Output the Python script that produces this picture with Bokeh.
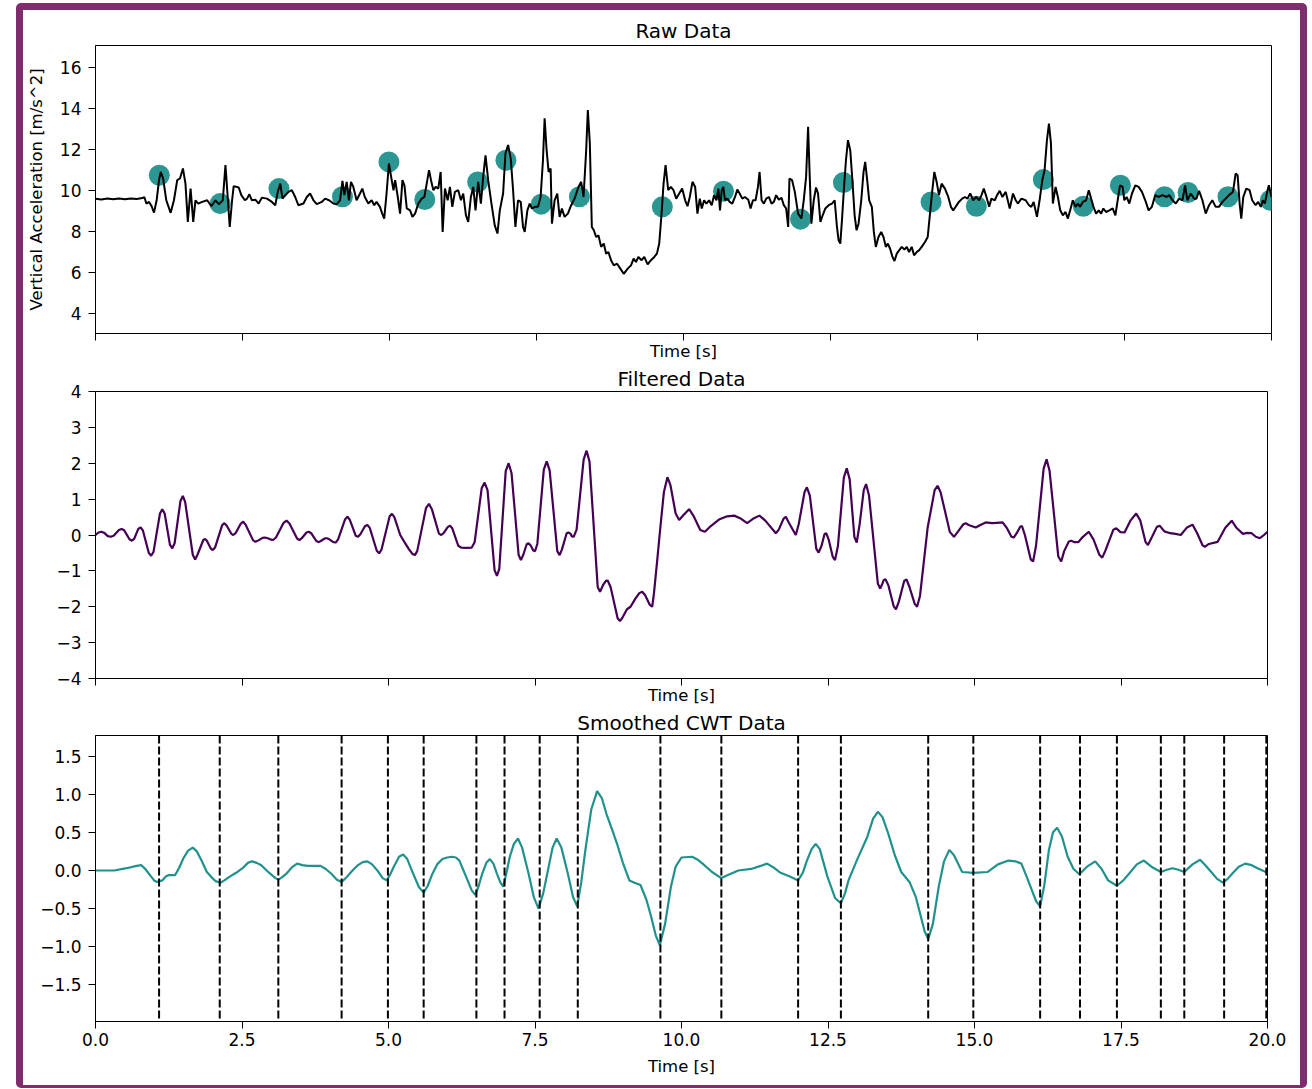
from bokeh.plotting import figure
from bokeh.layouts import column
from bokeh.models import Span, FixedTicker, Range1d, CustomJSTickFormatter
from bokeh.embed import file_html
from bokeh.resources import INLINE

# ---------------- data ----------------
raw_time = [
    0.0, 0.1, 0.2, 0.3, 0.4, 0.5, 0.6, 0.7, 0.8, 0.83,
    0.865, 0.91, 0.955, 0.995, 1.04, 1.08, 1.11, 1.15, 1.204, 1.278,
    1.334, 1.39, 1.436, 1.487, 1.53, 1.57, 1.617, 1.662, 1.70, 1.747,
    1.814, 1.90, 1.97, 2.04, 2.097, 2.165, 2.21, 2.244, 2.283, 2.323,
    2.35, 2.436, 2.48, 2.54, 2.577, 2.617, 2.66, 2.718, 2.775, 2.83,
    2.916, 3.0, 3.057, 3.1, 3.142, 3.18, 3.227, 3.283, 3.34, 3.396,
    3.45, 3.537, 3.594, 3.65, 3.707, 3.763, 3.848, 3.905, 3.972, 4.046,
    4.102, 4.159, 4.2, 4.232, 4.272, 4.31, 4.345, 4.385, 4.44, 4.498,
    4.538, 4.58, 4.64, 4.696, 4.74, 4.78, 4.837, 4.876, 4.91, 4.95,
    4.99,
    5.028, 5.068, 5.096, 5.141, 5.18, 5.22, 5.254, 5.294, 5.35, 5.39,
    5.435, 5.49, 5.548, 5.593, 5.633, 5.672, 5.706, 5.746, 5.785, 5.83,
    5.87, 5.904, 5.943, 5.989, 6.028, 6.068, 6.113, 6.169, 6.215, 6.254,
    6.3, 6.339, 6.384, 6.424, 6.463, 6.508, 6.554, 6.593, 6.633, 6.678,
    6.734, 6.79, 6.836, 6.876, 6.932, 6.972, 7.017, 7.062, 7.102, 7.141,
    7.186, 7.232, 7.271, 7.3, 7.345, 7.384, 7.424, 7.469, 7.525, 7.57,
    7.61, 7.638, 7.672, 7.706, 7.74, 7.763, 7.808, 7.853, 7.893, 7.932,
    7.977, 8.034, 8.09, 8.147, 8.215, 8.26, 8.3, 8.345, 8.373, 8.407,
    8.441, 8.475, 8.514, 8.554, 8.599, 8.644, 8.684, 8.723, 8.768, 8.814,
    8.87, 8.926, 8.983, 9.051, 9.107, 9.152, 9.192, 9.232, 9.288, 9.333,
    9.39, 9.446, 9.503, 9.548, 9.587, 9.627, 9.661, 9.695, 9.74, 9.785,
    9.83, 9.876, 9.927, 9.977,
    10.028, 10.068, 10.107, 10.153, 10.198, 10.237, 10.277, 10.311, 10.35, 10.39,
    10.435, 10.48, 10.52, 10.559, 10.593, 10.621, 10.65, 10.678, 10.706, 10.746,
    10.785, 10.83, 10.876, 10.915, 10.955, 11.0, 11.045, 11.102, 11.141, 11.181,
    11.226, 11.266, 11.294, 11.328, 11.367, 11.407, 11.452, 11.497, 11.537, 11.576,
    11.621, 11.667, 11.706, 11.746, 11.78, 11.802, 11.847, 11.893, 11.949, 12.005,
    12.045, 12.085, 12.119, 12.147, 12.175, 12.215, 12.254, 12.288, 12.328, 12.367,
    12.412, 12.469, 12.525, 12.571, 12.61, 12.638, 12.667, 12.695, 12.734, 12.763,
    12.797, 12.836, 12.876, 12.91, 12.943, 12.977, 13.023, 13.062, 13.09, 13.124,
    13.158, 13.203, 13.237, 13.271, 13.316, 13.362, 13.401, 13.441, 13.475, 13.514,
    13.554, 13.588, 13.627, 13.667, 13.712, 13.757, 13.797, 13.836, 13.881, 13.921,
    13.966, 14.005, 14.051, 14.107, 14.153, 14.192, 14.232, 14.266, 14.305, 14.345,
    14.39, 14.446, 14.503, 14.548, 14.587, 14.627, 14.683, 14.74, 14.785, 14.83,
    14.876, 14.927, 14.977,
    15.028, 15.068, 15.107, 15.153, 15.198, 15.237, 15.294, 15.333, 15.378, 15.424,
    15.48, 15.548, 15.604, 15.65, 15.689, 15.746, 15.819, 15.876, 15.915, 15.955,
    16.011, 16.056, 16.102, 16.141, 16.181, 16.215, 16.249, 16.282, 16.328, 16.367,
    16.407, 16.452, 16.497, 16.537, 16.576, 16.621, 16.667, 16.706, 16.746, 16.791,
    16.847, 16.893, 16.932, 16.972, 17.017, 17.062, 17.102, 17.141, 17.186, 17.243,
    17.299, 17.345, 17.384, 17.424, 17.469, 17.497, 17.537, 17.582, 17.627, 17.684,
    17.74, 17.797, 17.853, 17.91, 17.966, 18.023, 18.079, 18.147, 18.215, 18.26,
    18.316, 18.373, 18.429, 18.486, 18.531, 18.57, 18.627, 18.684, 18.723, 18.768,
    18.825, 18.881, 18.938, 18.994, 19.051, 19.107, 19.164, 19.22, 19.277, 19.345,
    19.39, 19.424, 19.458, 19.486, 19.52, 19.571, 19.627, 19.672, 19.729, 19.774,
    19.819, 19.853, 19.887, 19.927, 19.955, 20.0,
]
raw_acc = [
    9.58, 9.55, 9.6, 9.56, 9.6, 9.56, 9.6, 9.57, 9.62, 9.67,
    9.35, 9.43, 9.22, 8.91, 9.51, 10.49, 10.89, 10.57, 9.51, 8.9,
    9.51, 10.49, 10.57, 11.06, 10.32, 8.46, 10.08, 8.46, 9.51, 9.35,
    9.43, 9.51, 9.22, 9.51, 9.32, 9.51, 11.22, 9.84, 8.21, 9.51,
    10.2, 10.13, 9.76, 9.51, 9.59, 9.8, 9.51, 9.54, 9.35, 9.64,
    9.59, 9.43, 9.27, 9.92, 10.32, 9.59, 9.76, 9.92, 10.0, 9.67,
    9.27, 9.35, 9.67, 9.84, 9.51, 9.32, 9.43, 9.59, 9.51, 9.35,
    9.32, 9.51, 10.45, 9.76, 10.41, 9.51, 10.41, 10.16, 9.51, 9.84,
    10.08, 9.67, 9.35, 9.51, 9.27, 9.43, 9.19, 8.86, 8.62, 9.84,
    11.3,
    10.65, 10.0, 10.49, 9.67, 8.86, 10.49, 10.24, 9.11, 9.02, 8.7,
    8.86, 9.35, 9.59, 9.67, 10.32, 10.98, 10.49, 10.0, 10.16, 10.08,
    10.89, 7.97, 10.08, 9.51, 10.16, 9.19, 9.92, 10.0, 9.51, 9.84,
    8.78, 8.46, 9.67, 10.16, 9.02, 10.41, 9.35, 10.65, 11.7, 10.49,
    9.35, 8.29, 7.89, 9.02, 9.84, 11.79, 12.2, 11.54, 10.0, 8.21,
    9.51, 9.43, 8.21, 7.97, 9.02, 9.35, 9.11, 9.19, 9.19, 9.67,
    11.46, 13.5, 11.95, 10.89, 11.06, 8.37, 9.51, 9.84, 8.7, 9.11,
    8.7, 8.86, 9.27, 9.59, 10.16, 10.41, 9.67, 11.95, 13.9, 12.28,
    8.21, 8.05, 7.72, 7.8, 7.24, 7.4, 6.91, 6.99, 6.59, 6.34,
    6.42, 6.18, 5.93, 6.18, 6.34, 6.67, 6.5, 6.75, 6.59, 6.75,
    6.39, 6.59, 6.75, 6.91, 7.4, 8.86, 10.32, 11.22, 10.0, 10.16,
    10.0, 9.59, 9.84, 10.08,
    9.51, 9.22, 9.67, 10.41, 10.16, 8.86, 9.59, 9.11, 9.51, 9.35,
    9.51, 9.27, 9.76, 9.51, 10.08, 9.02, 10.0, 10.16, 9.51, 9.59,
    9.43, 9.35, 9.67, 10.03, 9.84, 9.59, 9.67, 9.54, 9.11, 9.51,
    9.51, 10.16, 10.89, 9.51, 9.35, 9.59, 9.67, 9.35, 9.43, 9.76,
    9.54, 9.63, 9.27, 9.11, 8.21, 10.57, 10.49, 9.92, 8.86, 8.62,
    9.51, 10.65, 13.09, 10.65, 8.37, 9.51, 10.13, 9.84, 8.46, 8.78,
    9.11, 9.27, 9.35, 9.51, 8.21, 7.56, 7.4, 8.54, 10.32, 11.46,
    12.44, 11.95, 10.32, 8.78, 8.05, 8.37, 9.51, 10.89, 11.38, 10.49,
    9.51, 9.19, 7.97, 7.24, 7.72, 7.97, 7.72, 7.24, 7.4, 7.15,
    6.75, 6.55, 6.91, 7.07, 7.24, 7.11, 7.24, 6.99, 7.24, 6.83,
    6.99, 7.07, 7.24, 7.48, 7.72, 8.86, 10.0, 10.89, 10.41, 9.76,
    10.32, 10.08, 9.67, 9.19, 9.02, 9.19, 9.43, 9.59, 9.67, 9.59,
    9.84, 9.51, 9.67,
    9.51, 9.76, 10.08, 9.67, 9.19, 9.59, 9.51, 9.76, 9.97, 9.67,
    9.92, 9.11, 9.84, 9.51, 9.35, 9.59, 9.51, 9.27, 9.19, 9.43,
    8.7, 9.51, 10.49, 10.98, 12.44, 13.25, 12.28, 9.35, 10.16, 9.67,
    9.02, 8.78, 8.94, 8.62, 9.02, 9.51, 9.19, 9.35, 9.19, 9.43,
    9.51, 10.0, 9.59, 9.19, 8.86, 9.02, 8.86, 9.11, 8.94, 9.02,
    9.11, 8.78, 9.51, 10.24, 10.16, 9.51, 9.67, 9.35, 9.84, 10.24,
    10.16, 9.92, 9.51, 9.02, 9.19, 9.76, 9.67, 9.76, 9.67, 9.76,
    9.51, 9.35, 9.59, 9.51, 10.24, 9.51, 9.84, 9.59, 9.59, 9.97,
    9.51, 8.86, 9.27, 9.51, 9.19, 9.19, 9.43, 9.59, 9.76, 9.92,
    10.81, 10.73, 9.35, 8.62, 9.67, 10.08, 10.0, 9.51, 9.27, 9.43,
    9.19, 9.51, 9.35, 9.92, 10.24, 9.67,
]

peak_time = [1.085, 2.12, 3.12, 4.20, 4.99, 5.60, 6.50, 6.98, 7.58, 8.23, 9.64, 10.68,
             11.99, 12.72, 14.21, 14.98, 16.12, 16.80, 17.43, 18.18, 18.58, 19.26, 19.98]
peak_acc = [10.73, 9.35, 10.08, 9.68, 11.38, 9.55, 10.4, 11.46, 9.32, 9.68, 9.19, 9.95,
            8.59, 10.37, 9.43, 9.22, 10.52, 9.22, 10.24, 9.68, 9.89, 9.68, 9.51]

filt_time = [
    0, 0.05, 0.1, 0.15, 0.21, 0.26, 0.31, 0.40, 0.445, 0.49,
    0.58, 0.62, 0.66, 0.73, 0.77, 0.81, 0.91, 0.95, 0.99, 1.10,
    1.14, 1.18, 1.27, 1.31, 1.35, 1.45, 1.49, 1.53, 1.66, 1.70,
    1.74, 1.84, 1.87, 1.90, 1.97, 2.0, 2.04, 2.16, 2.2, 2.24,
    2.32, 2.35, 2.39, 2.48, 2.52, 2.56, 2.69, 2.73, 2.78, 2.85,
    2.89, 2.94, 3.0, 3.03, 3.08, 3.21, 3.26, 3.31, 3.44, 3.48,
    3.52, 3.6, 3.64, 3.68, 3.77, 3.81, 3.85, 3.92, 3.95, 3.99,
    4.06, 4.1, 4.14, 4.26, 4.3, 4.34, 4.44, 4.48, 4.52, 4.60,
    4.64, 4.68, 4.80, 4.84, 4.88, 5.02, 5.06, 5.10, 5.2, 5.27,
    5.35, 5.41, 5.45, 5.49, 5.64, 5.69, 5.74, 5.86, 5.9, 5.94,
    6.01, 6.05, 6.09, 6.19, 6.24, 6.33, 6.42, 6.47, 6.59, 6.64,
    6.69, 6.81, 6.85, 6.89, 7.0, 7.05, 7.10, 7.22, 7.26, 7.30,
    7.36, 7.39, 7.43, 7.47, 7.5, 7.54, 7.65, 7.7, 7.75, 7.88,
    7.92, 7.96, 8.04, 8.07, 8.11, 8.13, 8.16, 8.21, 8.33, 8.38,
    8.43, 8.57, 8.61, 8.66, 8.71, 8.74, 8.79, 8.91, 8.95, 9.0,
    9.07, 9.13, 9.21, 9.28, 9.33, 9.38, 9.46, 9.5, 9.53, 9.58,
    9.64, 9.7, 9.76, 9.81, 9.9, 9.96, 10.03, 10.13, 10.2, 10.32,
    10.4, 10.5, 10.65, 10.78, 10.9, 11.0, 11.12, 11.22, 11.33, 11.43,
    11.61, 11.66, 11.74, 11.78, 11.83, 11.95, 12.0, 12.1, 12.14, 12.19,
    12.30, 12.34, 12.39, 12.44, 12.47, 12.51, 12.58, 12.62, 12.67, 12.77,
    12.82, 12.87, 12.95, 12.99, 13.04, 13.11, 13.15, 13.2, 13.35, 13.39,
    13.43, 13.45, 13.48, 13.53, 13.62, 13.66, 13.71, 13.8, 13.84, 13.89,
    13.98, 14.02, 14.07, 14.2, 14.32, 14.37, 14.42, 14.58, 14.65, 14.72,
    14.81, 14.85, 14.9, 15.02, 15.1, 15.19, 15.3, 15.38, 15.48, 15.55,
    15.63, 15.67, 15.72, 15.78, 15.81, 15.86, 15.96, 16.0, 16.05, 16.18,
    16.23, 16.28, 16.43, 16.48, 16.53, 16.61, 16.65, 16.71, 16.77, 16.85,
    16.95, 17.03, 17.13, 17.18, 17.23, 17.37, 17.42, 17.49, 17.56, 17.66,
    17.76, 17.83, 17.92, 17.96, 18.03, 18.11, 18.16, 18.24, 18.34, 18.43,
    18.52, 18.62, 18.72, 18.8, 18.89, 18.93, 19.0, 19.15, 19.28, 19.39,
    19.47, 19.58, 19.65, 19.73, 19.8, 19.87, 19.94, 20.0,
]
filt_val = [
    0, 0.07, 0.09, 0.06, -0.03, -0.05, -0.02, 0.14, 0.17, 0.13,
    -0.12, -0.16, -0.11, 0.17, 0.21, 0.12, -0.5, -0.58, -0.47, 0.6,
    0.72, 0.6, -0.27, -0.37, -0.23, 0.95, 1.09, 0.92, -0.55, -0.68,
    -0.55, -0.14, -0.11, -0.16, -0.38, -0.42, -0.35, 0.27, 0.33, 0.26,
    0.03, 0.0, 0.05, 0.32, 0.37, 0.29, -0.15, -0.19, -0.15, -0.08,
    -0.07, -0.09, -0.13, -0.14, -0.07, 0.34, 0.40, 0.32, -0.1, -0.14,
    -0.09, 0.07, 0.09, 0.05, -0.17, -0.2, -0.16, -0.09, -0.09, -0.12,
    -0.2, -0.21, -0.12, 0.44, 0.51, 0.42, -0.02, -0.05, 0.02, 0.25,
    0.28, 0.2, -0.44, -0.51, -0.41, 0.52, 0.59, 0.5, 0.0, -0.19,
    -0.4, -0.53, -0.56, -0.45, 0.75, 0.87, 0.72, 0.04, 0.0, 0.05,
    0.22, 0.26, 0.18, -0.3, -0.35, -0.36, -0.35, -0.2, 1.3, 1.46,
    1.25, -0.98, -1.14, -0.95, 1.78, 2.0, 1.72, -0.55, -0.7, -0.55,
    -0.25, -0.23, -0.3, -0.43, -0.45, -0.25, 1.82, 2.05, 1.8, -0.45,
    -0.56, -0.4, 0.05, 0.07, 0.03, -0.04, -0.05, 0.15, 2.1, 2.35,
    2.05, -1.45, -1.58, -1.4, -1.28, -1.27, -1.45, -2.32, -2.4, -2.28,
    -2.07, -2.0, -1.78, -1.62, -1.58, -1.68, -1.95, -2.0, -1.63, -0.8,
    0.23, 1.2, 1.61, 1.4, 0.6, 0.42, 0.55, 0.72, 0.55, 0.14,
    0.09, 0.25, 0.44, 0.52, 0.54, 0.47, 0.33, 0.45, 0.54, 0.4,
    0.05, 0.15, 0.45, 0.51, 0.35, 0.0, 0.3, 1.2, 1.33, 1.1,
    -0.38, -0.49, -0.3, 0.02, 0.05, -0.12, -0.6, -0.7, -0.3, 1.6,
    1.86, 1.55, -0.05, -0.21, 0.3, 1.25, 1.42, 1.1, -1.35, -1.49,
    -1.35, -1.26, -1.23, -1.4, -1.98, -2.07, -1.85, -1.28, -1.24, -1.45,
    -1.92, -2.0, -1.7, 0.2, 1.25, 1.37, 1.2, 0.08, -0.05, 0.1,
    0.3, 0.33, 0.28, 0.21, 0.28, 0.35, 0.33, 0.34, 0.35, 0.2,
    -0.05, -0.07, 0.05, 0.23, 0.25, 0.0, -0.68, -0.74, -0.3, 1.85,
    2.11, 1.8, -0.6, -0.74, -0.45, -0.18, -0.16, -0.2, -0.2, -0.05,
    0.09, -0.12, -0.55, -0.63, -0.45, 0.15, 0.19, 0.08, 0.07, 0.4,
    0.6, 0.4, -0.2, -0.28, -0.05, 0.22, 0.26, 0.1, 0.05, 0.03,
    0.0, 0.2, 0.29, 0.05, -0.28, -0.33, -0.25, -0.19, 0.2, 0.4,
    0.2, 0.03, 0.06, 0.05, -0.05, -0.09, 0.0, 0.09,
]

cwt_time = [
    0, 0.32, 0.53, 0.7, 0.78, 0.85, 0.93, 1.0, 1.05, 1.1,
    1.14, 1.2, 1.25, 1.36, 1.43, 1.50, 1.58, 1.66, 1.73, 1.81,
    1.9, 1.97, 2.05, 2.13, 2.2, 2.29, 2.4, 2.51, 2.6, 2.67,
    2.75, 2.83, 2.92, 3.01, 3.07, 3.12, 3.18, 3.26, 3.35, 3.44,
    3.53, 3.62, 3.75, 3.84, 3.93, 4.02, 4.12, 4.20, 4.27, 4.34,
    4.41, 4.48, 4.56, 4.64, 4.72, 4.81, 4.9, 4.97, 5.03, 5.09,
    5.18, 5.25, 5.32, 5.42, 5.52, 5.6, 5.67, 5.74, 5.83, 5.92,
    6.0, 6.08, 6.15, 6.21, 6.28, 6.35, 6.42, 6.48, 6.54, 6.6,
    6.67, 6.73, 6.79, 6.85, 6.91, 6.96, 7.01, 7.07, 7.14, 7.21,
    7.28, 7.39, 7.48, 7.56, 7.64, 7.72, 7.8, 7.87, 7.95, 8.06,
    8.15, 8.22, 8.29, 8.36, 8.46, 8.56, 8.64, 8.72, 8.81, 8.9,
    9.0, 9.11, 9.2, 9.3, 9.4, 9.48, 9.56, 9.63, 9.72, 9.82,
    9.9, 10.0, 10.18, 10.28, 10.36, 10.52, 10.68, 10.82, 10.97, 11.19,
    11.35, 11.46, 11.57, 11.69, 11.85, 11.99, 12.07, 12.14, 12.22, 12.29,
    12.36, 12.49, 12.62, 12.72, 12.79, 12.85, 12.99, 13.17, 13.27, 13.35,
    13.43, 13.53, 13.64, 13.75, 13.89, 14.0, 14.07, 14.15, 14.21, 14.29,
    14.39, 14.48, 14.57, 14.65, 14.79, 14.98, 15.22, 15.4, 15.58, 15.7,
    15.8, 15.9, 15.98, 16.05, 16.12, 16.19, 16.27, 16.34, 16.41, 16.49,
    16.59, 16.69, 16.79, 16.92, 17.06, 17.17, 17.28, 17.43, 17.54, 17.64,
    17.77, 17.89, 18.02, 18.18, 18.28, 18.38, 18.48, 18.58, 18.72, 18.85,
    18.95, 19.04, 19.14, 19.24, 19.32, 19.4, 19.51, 19.62, 19.73, 19.83,
    20.0,
]
cwt_val = [
    0.0, 0.0, 0.03, 0.06, 0.07, 0.02, -0.06, -0.13, -0.15, -0.14,
    -0.13, -0.08, -0.06, -0.06, 0.04, 0.16, 0.26, 0.3, 0.25, 0.13,
    -0.02, -0.08, -0.14, -0.16, -0.13, -0.08, -0.03, 0.03, 0.1, 0.12,
    0.1, 0.07, 0.0, -0.06, -0.1, -0.12, -0.09, -0.04, 0.04, 0.09,
    0.07, 0.06, 0.06, 0.06, 0.02, -0.04, -0.12, -0.15, -0.1, -0.04,
    0.02, 0.07, 0.11, 0.12, 0.08, 0.0, -0.1, -0.13, -0.05, 0.05,
    0.18, 0.21, 0.15, -0.04, -0.22, -0.29, -0.2, -0.06, 0.08, 0.15,
    0.17, 0.18, 0.17, 0.13, 0.0, -0.13, -0.26, -0.32, -0.2, -0.04,
    0.1, 0.15, 0.09, -0.04, -0.16, -0.21, -0.04, 0.18, 0.35, 0.42,
    0.3, -0.04, -0.35, -0.5, -0.3, 0.0, 0.3, 0.42, 0.3, -0.04,
    -0.35, -0.47, -0.15, 0.27, 0.8, 1.04, 0.95, 0.74, 0.55, 0.35,
    0.1, -0.13, -0.16, -0.19, -0.38, -0.6, -0.85, -0.98, -0.7, -0.21,
    0.05, 0.17, 0.18, 0.14, 0.09, -0.02, -0.1, -0.05, 0.0, 0.02,
    0.06, 0.09, 0.04, -0.03, -0.08, -0.13, -0.03, 0.13, 0.28, 0.35,
    0.28, -0.08, -0.36, -0.43, -0.3, -0.13, 0.13, 0.44, 0.68, 0.77,
    0.7, 0.48, 0.2, -0.02, -0.15, -0.35, -0.56, -0.8, -0.9, -0.7,
    -0.21, 0.12, 0.27, 0.2, -0.02, -0.03, -0.02, 0.08, 0.13, 0.12,
    0.09, -0.1, -0.26, -0.4, -0.47, -0.2, 0.27, 0.5, 0.56, 0.45,
    0.18, 0.02, -0.05, 0.05, 0.12, 0.02, -0.13, -0.2, -0.13, -0.04,
    0.08, 0.13, 0.05, -0.02, 0.01, 0.03, 0.01, -0.02, 0.08, 0.14,
    0.06, -0.02, -0.11, -0.16, -0.11, -0.04, 0.05, 0.09, 0.07, 0.03,
    -0.03,
]

x_ticks = [0, 2.5, 5, 7.5, 10, 12.5, 15, 17.5, 20]
x_tick_labels = ["0.0", "2.5", "5.0", "7.5", "10.0", "12.5", "15.0", "17.5", "20.0"]
raw_y_ticks = [4, 6, 8, 10, 12, 14, 16]
raw_y_labels = ["4", "6", "8", "10", "12", "14", "16"]
filt_y_ticks = [-4, -3, -2, -1, 0, 1, 2, 3, 4]
filt_y_labels = ["\u22124", "\u22123", "\u22122", "\u22121", "0", "1", "2", "3", "4"]
cwt_y_ticks = [-1.5, -1.0, -0.5, 0.0, 0.5, 1.0, 1.5]
cwt_y_labels = ["\u22121.5", "\u22121.0", "\u22120.5", "0.0", "0.5", "1.0", "1.5"]

titles = ["Raw Data", "Filtered Data", "Smoothed CWT Data"]
x_label = "Time [s]"
raw_y_label = "Vertical Acceleration [m/s^2]"

# ---------------- styling ----------------
FONT = "DejaVu Sans"
TICK_PX = "17px"
LABEL_PX = "16.5px"
TITLE_PX = "20px"
DOT_COLOR = "#21918c"
FILT_COLOR = "#440154"
CWT_COLOR = "#21918c"
FRAME_COLOR = "#7f2d6d"


def label_formatter(vals, labs):
    return CustomJSTickFormatter(
        args=dict(tvals=vals, tlabs=labs),
        code="""
        for (let i = 0; i < tvals.length; i++) {
            if (Math.abs(tvals[i] - tick) < 1e-9) { return tlabs[i]; }
        }
        return '';
        """,
    )


def make_fig(title, title_standoff, ylim, frame_w, frame_h, left, right, top, bottom):
    p = figure(
        frame_width=frame_w, frame_height=frame_h,
        x_range=Range1d(0, 20), y_range=Range1d(*ylim),
        output_backend="svg", toolbar_location=None,
        min_border_left=left, min_border_right=right,
        min_border_top=top, min_border_bottom=bottom,
        background_fill_color="white", border_fill_color="white",
    )
    p.title.text = title
    p.title.align = "center"
    p.title.text_font = FONT
    p.title.text_font_size = TITLE_PX
    p.title.text_font_style = "normal"
    p.title.text_color = "black"
    p.title.standoff = title_standoff
    p.outline_line_color = "black"
    p.outline_line_width = 1
    p.xgrid.visible = False
    p.ygrid.visible = False
    for ax in (p.xaxis[0], p.yaxis[0]):
        ax.major_tick_out = 7
        ax.major_tick_in = 0
        ax.minor_tick_out = 0
        ax.minor_tick_in = 0
        ax.axis_line_color = "black"
        ax.major_tick_line_color = "black"
        ax.major_label_text_font = FONT
        ax.major_label_text_font_size = TICK_PX
        ax.major_label_text_color = "black"
        ax.axis_label_text_font = FONT
        ax.axis_label_text_font_size = LABEL_PX
        ax.axis_label_text_font_style = "normal"
        ax.axis_label_text_color = "black"
    p.yaxis[0].major_label_standoff = 7
    p.xaxis[0].ticker = FixedTicker(ticks=x_ticks)
    p.xaxis[0].axis_label = x_label
    return p


def hide_x_tick_labels(p, label_standoff):
    p.xaxis[0].formatter = label_formatter([], [])
    p.xaxis[0].major_label_text_font_size = "0px"
    p.xaxis[0].major_label_standoff = 0
    p.xaxis[0].axis_label_text_line_height = 1.0
    p.xaxis[0].axis_label_standoff = label_standoff


# ---- Raw data
p1 = make_fig(titles[0], 6, (3.02, 17.05), 1176, 288, 72, 29, 35, 28)
p1.yaxis[0].ticker = FixedTicker(ticks=raw_y_ticks)
p1.yaxis[0].formatter = label_formatter(raw_y_ticks, raw_y_labels)
p1.yaxis[0].axis_label = raw_y_label
p1.yaxis[0].axis_label_standoff = 11
hide_x_tick_labels(p1, 1)
p1.scatter(peak_time, peak_acc, size=21, fill_color=DOT_COLOR, line_color=None, fill_alpha=0.95)
p1.line(raw_time, raw_acc, line_color="black", line_width=2)

# ---- Filtered data
p2 = make_fig(titles[1], 1, (-4, 4), 1172, 287, 72, 33, 28, 28)
p2.yaxis[0].ticker = FixedTicker(ticks=filt_y_ticks)
p2.yaxis[0].formatter = label_formatter(filt_y_ticks, filt_y_labels)
hide_x_tick_labels(p2, 0)
p2.line(filt_time, filt_val, line_color=FILT_COLOR, line_width=2.2)

# ---- Smoothed CWT
p3 = make_fig(titles[2], 1, (-1.98, 1.77), 1172, 286, 72, 33, 28, 64)
p3.yaxis[0].ticker = FixedTicker(ticks=cwt_y_ticks)
p3.yaxis[0].formatter = label_formatter(cwt_y_ticks, cwt_y_labels)
p3.xaxis[0].formatter = label_formatter(x_ticks, x_tick_labels)
p3.xaxis[0].major_label_standoff = 4
p3.xaxis[0].axis_label_standoff = 8
for t in peak_time:
    p3.add_layout(Span(location=t, dimension="height", line_color="black",
                       line_width=2, line_dash="8 3"))
p3.line(cwt_time, cwt_val, line_color=CWT_COLOR, line_width=2.2)

layout = column(p1, p2, p3, spacing=0)
layout.margin = (3, 0, 0, 16)
layout.styles = {
    "border": "7px solid " + FRAME_COLOR,
    "border-bottom-width": "3px",
    "border-radius": "5px",
    "background-color": "white",
}

open("out.html", "w").write(file_html(layout, INLINE))
